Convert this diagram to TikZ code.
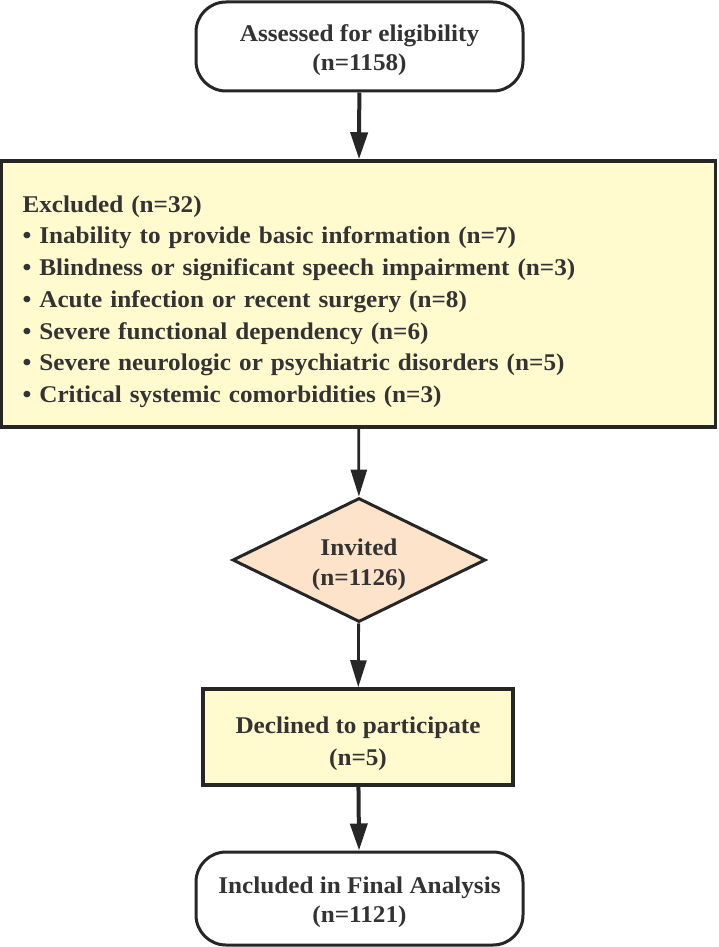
\documentclass[tikz,border=0pt]{standalone}
\usepackage{fontspec}
\setmainfont{Liberation Serif}[FakeStretch=1.05]
\usetikzlibrary{shapes.geometric,arrows.meta}
\definecolor{edge}{HTML}{262626}
\definecolor{txt}{HTML}{333333}
\definecolor{yfill}{HTML}{FFFBCF}
\definecolor{pfill}{HTML}{FCE3CA}
% lowers the text block of a node by #1 (enlarges the first line's height by 2x#1)
\newcommand\lowertext[1]{\rule{0pt}{\dimexpr 0.70em+2\dimexpr#1\relax\relax}}
\tikzset{
  base/.style={draw=edge, text=txt, font=\fontsize{24}{29}\selectfont\bfseries, align=center, inner sep=0pt},
  terminal/.style={base, fill=white, line width=3pt, rounded corners=30pt, minimum width=327pt, minimum height=89pt},
  listbox/.style={base, fill=yfill, line width=3.5pt, minimum width=714pt, minimum height=266pt, align=left, text width=672pt, font=\fontsize{24}{31.7}\selectfont\bfseries},
  procbox/.style={base, fill=yfill, line width=3.5pt, minimum width=310pt, minimum height=96pt, font=\fontsize{24}{32}\selectfont\bfseries},
  decision/.style={base, fill=pfill, line width=3pt, shape=diamond, shape aspect=2, minimum width=253pt, minimum height=124pt, font=\fontsize{24}{30}\selectfont\bfseries},
  thick arrow/.style={draw=edge, line width=4pt, -{Triangle[length=27pt,width=17pt]}},
  thin arrow/.style={draw=edge, line width=2.8pt, -{Triangle[length=27pt,width=16pt]}}
}
\begin{document}
\begin{tikzpicture}[x=1pt,y=-1pt]
\useasboundingbox (0,0) rectangle (718,947);
\node[terminal] (assess) at (359.5,46.5) {\lowertext{4pt}Assessed for eligibility\\(n=1158)};
\node[listbox] (excl) at (358.5,294) {\lowertext{7.5pt}Excluded (n=32)\\
• Inability to provide basic information (n=7)\\
• Blindness or significant speech impairment (n=3)\\
• Acute infection or recent surgery (n=8)\\
• Severe functional dependency (n=6)\\
• Severe neurologic or psychiatric disorders (n=5)\\
• Critical systemic comorbidities (n=3)};
\node[decision] (inv) at (359,560) {\lowertext{4.5pt}Invited\\(n=1126)};
\node[procbox] (decl) at (358,737) {\lowertext{7pt}Declined to participate\\(n=5)};
\node[terminal, minimum height=93pt] (final) at (359.5,898.5) {\lowertext{3.5pt}Included in Final Analysis\\(n=1121)};
\draw[thick arrow] (assess) -- (excl);
\draw[thin arrow] (excl) -- (inv);
\draw[thin arrow] (inv) -- (decl);
\draw[thick arrow] (decl) -- (final);
\end{tikzpicture}
\end{document}
